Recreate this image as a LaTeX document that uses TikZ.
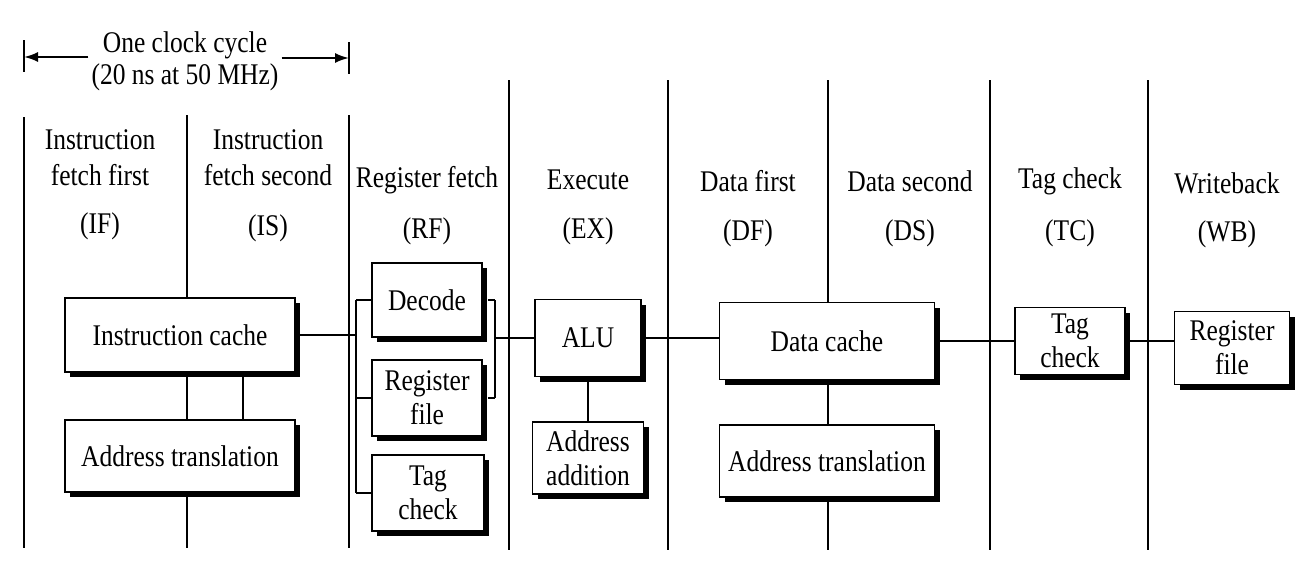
\documentclass[tikz,border=0pt]{standalone}
\usepackage{fontspec}
\setmainfont{Liberation Serif}[FakeStretch=0.85]
\usetikzlibrary{shadows,backgrounds,arrows.meta}
\begin{document}
\begin{tikzpicture}[x=0.5pt,y=-0.5pt,
  stageline/.style={line width=1pt},
  blk/.style={draw, line width=0.9pt, fill=white, inner sep=0pt, align=center,
    font=\fontsize{15}{17}\selectfont,
    drop shadow={shadow xshift=2.5pt, shadow yshift=-2.5pt, opacity=1, fill=black}},
  hdr/.style={align=center, inner sep=0pt, font=\fontsize{15}{18}\selectfont},
  conn/.style={line width=1pt}]
\useasboundingbox (0,0) rectangle (1302,579);

% header texts
\node[hdr] (cyc1) at (185,45) {One clock cycle};
\node[hdr] (cyc2) at (185,77) {(20 ns at 50 MHz)};
\node[hdr] (hIF) at (100,158) {Instruction\\fetch first};
\node[hdr] (aIF) at (100,226) {(IF)};
\node[hdr] (hIS) at (268,158) {Instruction\\fetch second};
\node[hdr] (aIS) at (268,228) {(IS)};
\node[hdr] (hRF) at (427,180) {Register fetch};
\node[hdr] (aRF) at (427,231) {(RF)};
\node[hdr] (hEX) at (588,180) {Execute};
\node[hdr] (aEX) at (588,231) {(EX)};
\node[hdr] (hDF) at (748,181) {Data first};
\node[hdr] (aDF) at (748,233) {(DF)};
\node[hdr] (hDS) at (910,181) {Data second};
\node[hdr] (aDS) at (910,233) {(DS)};
\node[hdr] (hTC) at (1070,181) {Tag check};
\node[hdr] (aTC) at (1070,233) {(TC)};
\node[hdr] (hWB) at (1227,183) {Writeback};
\node[hdr] (aWB) at (1227,234) {(WB)};

% boxes
\node[blk, minimum width=115pt, minimum height=37pt] (ic) at (180,335) {Instruction cache};
\node[blk, minimum width=115pt, minimum height=36pt] (iat) at (180,456) {Address translation};
\node[blk, minimum width=55pt, minimum height=37pt] (dec) at (427,300) {Decode};
\node[blk, minimum width=55pt, minimum height=38pt] (rf) at (427,398) {Register\\file};
\node[blk, minimum width=56pt, minimum height=38pt] (tc1) at (428,493) {Tag\\check};
\node[blk, minimum width=53pt, minimum height=38.5pt] (alu) at (588,338) {ALU};
\node[blk, minimum width=55.5pt, minimum height=36pt] (aa) at (588,458) {Address\\addition};
\node[blk, minimum width=107.5pt, minimum height=38.5pt] (dc) at (827,341) {Data cache};
\node[blk, minimum width=107.5pt, minimum height=36pt] (dat) at (827,461) {Address translation};
\node[blk, minimum width=55pt, minimum height=33.5pt] (tc2) at (1070,341) {Tag\\check};
\node[blk, minimum width=57.5pt, minimum height=36.5pt] (wb) at (1232,348) {Register\\file};

% helper coordinates
\coordinate (k1) at (243,0);
\coordinate (bl) at (356,0);
\coordinate (br) at (495,0);
\coordinate (t1a) at (24,40);
\coordinate (t1b) at (24,72);
\coordinate (t2a) at (349,42);
\coordinate (t2b) at (349,74);
\coordinate (arL) at (24,57);
\coordinate (arR) at (349,58);

% clock cycle dimension
\draw[conn] (t1a) -- (t1b);
\draw[conn] (t2a) -- (t2b);
\draw[conn, -{Latex[length=7pt,width=5pt]}] (cyc1.west |- arL) ++(-14,0) -- (arL);
\draw[conn, -{Latex[length=7pt,width=5pt]}] (cyc1.east |- arR) ++(14,0) -- (arR);

% connectors
\draw[conn] (ic.south -| k1) -- (iat.north -| k1);
\draw[conn] (ic.east) -- (ic.east -| bl);
\draw[conn] (dec.west -| bl) -- (tc1.west -| bl);
\draw[conn] (dec.west) -- (dec.west -| bl);
\draw[conn] (rf.west) -- (rf.west -| bl);
\draw[conn] (tc1.west) -- (tc1.west -| bl);
\draw[conn] (dec.east) ++(2.5pt,0) -- (dec.east -| br);
\draw[conn] (rf.east) ++(2.5pt,0) -- (rf.east -| br);
\draw[conn] (dec.east -| br) -- (rf.east -| br);
\draw[conn] (alu.west -| br) -- (alu.west);
\draw[conn] (alu.south) -- (aa.north);
\draw[conn] (alu.east) -- (alu.east -| dc.west);
\draw[conn] (dc.east) -- (tc2.west);
\draw[conn] (tc2.east) -- (tc2.east -| wb.west);

% stage boundary lines
\begin{scope}[on background layer]
\coordinate (s1t) at (24,117);   \coordinate (s1b) at (24,548);
\coordinate (s2t) at (187,115);  \coordinate (s2b) at (187,548);
\coordinate (s3t) at (349,115);  \coordinate (s3b) at (349,548);
\coordinate (s4t) at (509,80);   \coordinate (s4b) at (509,550);
\coordinate (s5t) at (668,80);   \coordinate (s5b) at (668,550);
\coordinate (s6t) at (828,80);   \coordinate (s6b) at (828,550);
\coordinate (s7t) at (990,80);   \coordinate (s7b) at (990,550);
\coordinate (s8t) at (1148,80);  \coordinate (s8b) at (1148,550);
\foreach \i in {1,...,8} {\draw[stageline] (s\i t) -- (s\i b);}
\end{scope}
\end{tikzpicture}
\end{document}
